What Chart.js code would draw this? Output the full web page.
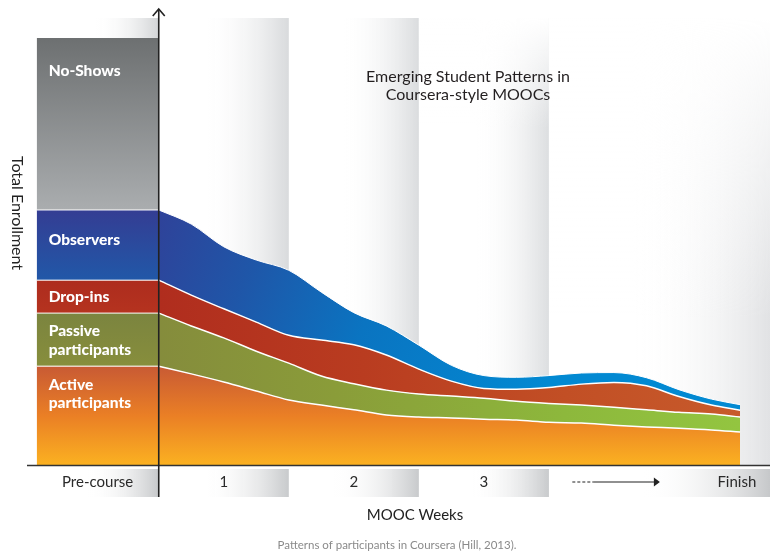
<!DOCTYPE html>
<html><head><meta charset="utf-8">
<script src="https://cdn.jsdelivr.net/npm/chart.js@4/dist/chart.umd.min.js"></script>
<style>html,body{margin:0;padding:0;background:#fff}#wrap{position:relative;width:770px;height:554px}</style>
</head><body><div id="wrap"><canvas id="c"></canvas></div>
<script>
// ---- data ----
const seriesNames = ['Active participants', 'Passive participants', 'Drop-ins', 'Observers', 'No-Shows'];
// pre-course enrollment split (share of total enrollment)
const preActive = 23.1, prePassive = 12.4, preDropIns = 7.7, preObservers = 16.4, preNoShows = 40.2;
const preCourseRange = [-0.9385, 0];           // x extent of the pre-course column (weeks)
const weeks     = [0, 0.25, 0.5, 0.75, 1, 1.25, 1.5, 1.75, 2, 2.25, 2.5, 2.75, 3, 3.25, 3.5, 3.75, 4, 4.25, 4.47];
const active    = [23.1, 21.3, 19.4, 17.3, 15.2, 14.0, 12.9, 11.7, 11.2, 11.0, 10.7, 10.5, 10.0, 9.8, 9.3, 8.9, 8.6, 8.2, 7.7];
const passive   = [12.4, 11.2, 10.3, 9.3, 8.6, 6.8, 6.1, 5.8, 5.4, 5.1, 4.9, 4.4, 4.4, 4.2, 4.2, 4.0, 3.7, 3.7, 3.5];
const dropIns   = [7.7, 7.2, 6.8, 6.8, 6.5, 8.4, 9.1, 8.2, 5.8, 3.5, 2.3, 2.8, 3.7, 4.9, 5.8, 5.6, 3.7, 2.1, 1.6];
const observers = [16.4, 16.6, 14.5, 14.5, 15.2, 11.2, 7.5, 6.8, 5.6, 3.7, 3.0, 2.8, 2.8, 2.6, 2.3, 1.9, 1.6, 1.4, 1.3];
const tickLabels    = ['Pre-course', '1', '2', '3', 'Finish'];
const tickPositions = [-0.47, 0.5, 1.5, 2.5, 4.445];
const X_MIN = -1.013, X_MAX = 4.7, Y_MAX = 106.8;

const FONT = 'Lato, "Open Sans", sans-serif';

function pts(vals) { return weeks.map((w, i) => ({x: w, y: vals[i]})); }
function prePts(v) { return preCourseRange.map(x => ({x, y: v})); }

function lin(chart, x0, y0, x1, y1, stops, fallback) {
  const ca = chart.chartArea;
  if (!ca) return fallback;
  const g = chart.ctx.createLinearGradient(x0, y0, x1, y1);
  stops.forEach(s => g.addColorStop(s[0], s[1]));
  return g;
}
const X = (c, v) => c.scales.x.getPixelForValue(v);
const Y = (c, v) => c.scales.y.getPixelForValue(v);

const activeFill = ctx => { const c = ctx.chart; if (!c.chartArea) return '#ee8a24';
  return lin(c, 0, Y(c, preActive), 0, Y(c, 0), [[0, '#c85a34'], [0.5, '#ea7f25'], [1, '#fbb121']]); };
const passiveFill = ctx => { const c = ctx.chart; if (!c.chartArea) return '#8aa53b';
  return lin(c, X(c, 0), 0, X(c, 4.47), 0, [[0, '#858c3c'], [0.3, '#8a9c39'], [0.7, '#8db83c'], [1, '#93c540']]); };
const dropFill = ctx => { const c = ctx.chart; if (!c.chartArea) return '#bb4022';
  return lin(c, X(c, 0), 0, X(c, 4.47), 0, [[0, '#b02d1e'], [0.35, '#b93c20'], [0.7, '#c24f25'], [1, '#c75a2b']]); };
const obsFill = ctx => { const c = ctx.chart; if (!c.chartArea) return '#1565b4';
  return lin(c, X(c, 0), Y(c, 59.6), X(c, 3), Y(c, 20), [[0, '#2f4299'], [0.25, '#1f56a8'], [0.55, '#0a74c1'], [1, '#0289d2']]); };
const obsBlockFill = ctx => { const c = ctx.chart; if (!c.chartArea) return '#2a4a9f';
  const t = preActive + prePassive + preDropIns;
  return lin(c, 0, Y(c, t + preObservers), 0, Y(c, t), [[0, '#343d93'], [1, '#2158a8']]); };
const dropBlockFill = ctx => { const c = ctx.chart; if (!c.chartArea) return '#b02e1f';
  const t = preActive + prePassive;
  return lin(c, 0, Y(c, t + preDropIns), 0, Y(c, t), [[0, '#ad2c1e'], [1, '#b5331f']]); };
const passBlockFill = ctx => { const c = ctx.chart; if (!c.chartArea) return '#80883f';
  return lin(c, 0, Y(c, preActive + prePassive), 0, Y(c, preActive), [[0, '#7b843f'], [1, '#878e3c']]); };
const noShowFill = ctx => { const c = ctx.chart; if (!c.chartArea) return '#8a8d8f';
  const t = preActive + prePassive + preDropIns + preObservers;
  return lin(c, 0, Y(c, t + preNoShows), 0, Y(c, t), [[0, '#6d7071'], [1, '#aaadaf']]); };

const W = '#ffffff';
const datasets = [
  {label: seriesNames[0], data: pts(active), stack: 'course', fill: 'origin', backgroundColor: activeFill, borderColor: W, borderWidth: 1.5},
  {label: seriesNames[1], data: pts(passive), stack: 'course', fill: '-1', backgroundColor: passiveFill, borderColor: W, borderWidth: 1.5},
  {label: seriesNames[2], data: pts(dropIns), stack: 'course', fill: '-1', backgroundColor: dropFill, borderColor: W, borderWidth: 1.5},
  {label: seriesNames[3], data: pts(observers), stack: 'course', fill: '-1', backgroundColor: obsFill, borderColor: W, borderWidth: 1},
  {label: seriesNames[0], data: prePts(preActive), stack: 'pre', fill: 'origin', backgroundColor: activeFill, borderColor: W, borderWidth: 1},
  {label: seriesNames[1], data: prePts(prePassive), stack: 'pre', fill: '-1', backgroundColor: passBlockFill, borderColor: W, borderWidth: 1},
  {label: seriesNames[2], data: prePts(preDropIns), stack: 'pre', fill: '-1', backgroundColor: dropBlockFill, borderColor: W, borderWidth: 1},
  {label: seriesNames[3], data: prePts(preObservers), stack: 'pre', fill: '-1', backgroundColor: obsBlockFill, borderColor: W, borderWidth: 1},
  {label: seriesNames[4], data: prePts(preNoShows), stack: 'pre', fill: '-1', backgroundColor: noShowFill, borderColor: 'rgba(0,0,0,0)', borderWidth: 0}
];

function hgradRect(ctx, x0, x1, y0, y1, gStart, color) {
  const g = ctx.createLinearGradient(x0, 0, x1, 0);
  const t = Math.max(0, Math.min(1, (gStart - x0) / (x1 - x0)));
  g.addColorStop(0, 'rgba(255,255,255,0)');
  g.addColorStop(t, 'rgba(255,255,255,0)');
  g.addColorStop(1, color);
  ctx.fillStyle = g;
  ctx.fillRect(x0, y0, x1 - x0, y1 - y0);
}
function vfade(ctx, x0, x1, y0, y1) {
  const g = ctx.createLinearGradient(0, y0, 0, y1);
  g.addColorStop(0, 'rgba(255,255,255,1)');
  g.addColorStop(1, 'rgba(255,255,255,0)');
  ctx.fillStyle = g;
  ctx.fillRect(x0, y0, x1 - x0, y1 - y0);
}

const backdrop = {
  id: 'backdrop',
  beforeDatasetsDraw(chart) {
    const ctx = chart.ctx, ca = chart.chartArea;
    const top = ca.top + 10, bot = ca.bottom;
    const px = v => X(chart, v);
    ctx.save();
    const blockTop = Y(chart, preActive + prePassive + preDropIns + preObservers + preNoShows);
    hgradRect(ctx, px(-0.55), px(0), top, blockTop, px(-0.5), '#d2d4d6');
    hgradRect(ctx, px(0), px(1), top, bot, px(0.33), '#d8dadc');
    hgradRect(ctx, px(1), px(2), top, bot, px(1.4), '#dadcde');
    hgradRect(ctx, px(2), px(3), top, bot, px(2.42), '#dcdee0');
    vfade(ctx, px(2), px(3), top, top + 110);
    hgradRect(ctx, px(3), ca.right, top, bot, px(3.65), '#e1e2e4');
    vfade(ctx, px(3), ca.right, top, top + 300);
    const s0 = bot + 4, s1 = bot + 32;
    hgradRect(ctx, px(-0.6), px(0), s0, s1, px(-0.55), '#c6c8ca');
    hgradRect(ctx, px(0), px(1), s0, s1, px(0.33), '#c8cacc');
    hgradRect(ctx, px(1), px(2), s0, s1, px(1.35), '#c8cacc');
    hgradRect(ctx, px(2), px(3), s0, s1, px(2.4), '#c8cacc');
    hgradRect(ctx, px(3.72), ca.right, s0, s1, px(3.72), '#c6c8ca');
    ctx.restore();
  },
  afterDatasetsDraw(chart) {
    const ctx = chart.ctx, ca = chart.chartArea;
    const x0 = X(chart, 0);
    ctx.save();
    ctx.strokeStyle = '#333';
    ctx.lineWidth = 1.6;
    ctx.beginPath(); ctx.moveTo(ca.left, ca.bottom + 0.5); ctx.lineTo(ca.right, ca.bottom + 0.5); ctx.stroke();
    ctx.strokeStyle = '#222';
    ctx.beginPath(); ctx.moveTo(x0, ca.top + 1); ctx.lineTo(x0, ca.bottom + 32); ctx.stroke();
    ctx.beginPath(); ctx.moveTo(x0 - 6, ca.top + 8); ctx.lineTo(x0, ca.top + 1); ctx.lineTo(x0 + 6, ca.top + 8); ctx.stroke();
    ctx.fillStyle = '#2a2a2a';
    ctx.font = '15px ' + FONT;
    ctx.textAlign = 'center'; ctx.textBaseline = 'middle';
    const ly = ca.bottom + 17;
    tickLabels.forEach((t, i) => ctx.fillText(t, X(chart, tickPositions[i]), ly));
    const ax0 = X(chart, 3.18), ax1 = X(chart, 3.34), ax2 = X(chart, 3.815);
    ctx.lineWidth = 1.2; ctx.strokeStyle = '#222';
    ctx.setLineDash([3, 2]);
    ctx.beginPath(); ctx.moveTo(ax0, ly); ctx.lineTo(ax1, ly); ctx.stroke();
    ctx.setLineDash([]);
    ctx.beginPath(); ctx.moveTo(ax1, ly); ctx.lineTo(ax2, ly); ctx.stroke();
    ctx.fillStyle = '#222';
    ctx.beginPath(); ctx.moveTo(ax2 - 1, ly - 4.5); ctx.lineTo(ax2 + 5, ly); ctx.lineTo(ax2 - 1, ly + 4.5); ctx.closePath(); ctx.fill();
    ctx.fillStyle = '#222';
    ctx.font = '15px ' + FONT;
    ctx.fillText('MOOC Weeks', 415, ca.bottom + 50);
    ctx.save();
    ctx.translate(17, 213); ctx.rotate(Math.PI / 2);
    ctx.font = '16px ' + FONT;
    ctx.fillText('Total Enrollment', 0, 0);
    ctx.restore();
    ctx.font = '16px ' + FONT;
    ctx.fillStyle = '#231f20';
    ctx.fillText('Emerging Student Patterns in', 468, 77);
    ctx.fillText('Coursera-style MOOCs', 468, 95);
    ctx.font = '11.5px ' + FONT;
    ctx.fillStyle = '#8a8a8a';
    ctx.fillText('Patterns of participants in Coursera (Hill, 2013).', 397, 545);
    ctx.fillStyle = '#ffffff';
    ctx.font = '900 15.5px ' + FONT;
    ctx.textAlign = 'left';
    const lx = X(chart, preCourseRange[0]) + 12;
    const tA = Y(chart, preActive), tP = Y(chart, preActive + prePassive);
    const tD = Y(chart, preActive + prePassive + preDropIns);
    const tO = Y(chart, preActive + prePassive + preDropIns + preObservers);
    const tN = Y(chart, preActive + prePassive + preDropIns + preObservers + preNoShows);
    ctx.fillText('No-Shows', lx, tN + 33);
    ctx.fillText('Observers', lx, tO + 30);
    ctx.fillText('Drop-ins', lx, (tD + tP) / 2);
    ctx.fillText('Passive', lx, (tP + tA) / 2 - 9);
    ctx.fillText('participants', lx, (tP + tA) / 2 + 10);
    ctx.fillText('Active', lx, tA + 19);
    ctx.fillText('participants', lx, tA + 37);
    ctx.restore();
  }
};

new Chart(document.getElementById('c'), {
  type: 'line',
  data: {datasets},
  options: {
    responsive: true, maintainAspectRatio: false, animation: false,
    layout: {padding: {left: 27, right: 0, top: 8, bottom: 89}},
    scales: {
      x: {type: 'linear', min: X_MIN, max: X_MAX, display: false},
      y: {min: 0, max: Y_MAX, stacked: true, display: false}
    },
    elements: {point: {radius: 0, hoverRadius: 0}, line: {cubicInterpolationMode: 'monotone'}},
    plugins: {legend: {display: false}, tooltip: {enabled: false}, filler: {propagate: false}}
  },
  plugins: [backdrop]
});
</script>
</body></html>
